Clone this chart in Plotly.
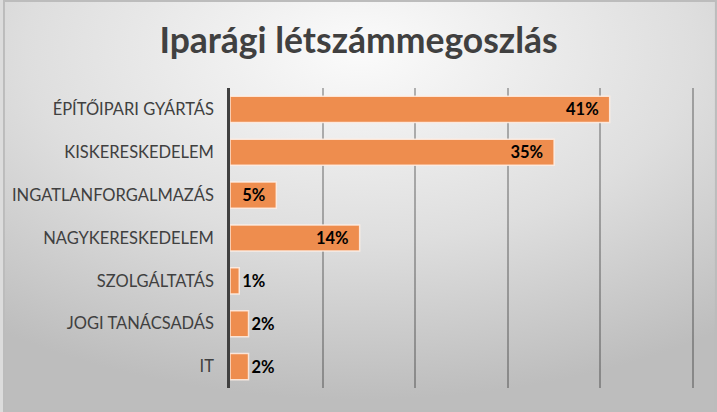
import base64
import plotly.graph_objects as go

categories = ["ÉPÍTŐIPARI GYÁRTÁS", "KISKERESKEDELEM", "INGATLANFORGALMAZÁS",
              "NAGYKERESKEDELEM", "SZOLGÁLTATÁS", "JOGI TANÁCSADÁS", "IT"]
values = [0.41, 0.35, 0.05, 0.14, 0.01, 0.02, 0.02]
text_positions = ["inside", "inside", "inside", "inside", "outside", "outside", "outside"]
title_text = "Iparági létszámmegoszlás"

W, H = 717, 412
ML, MR, MT, MB = 228, 19, 88, 24
PW, PH = W - ML - MR, H - MT - MB
XMAX = 0.5 * PW / 465

svg = f'''<svg xmlns="http://www.w3.org/2000/svg" width="{W}" height="{H}" viewBox="0 0 {W} {H}" preserveAspectRatio="none">
<defs><radialGradient id="g" cx="0.5" cy="0.12" r="0.85" fx="0.5" fy="0.12">
<stop offset="0" stop-color="#fbfbfb"/><stop offset="0.55" stop-color="#dedede"/><stop offset="1" stop-color="#bdbdbd"/>
</radialGradient></defs>
<rect x="0" y="0" width="{W}" height="{H}" fill="url(#g)"/>
<rect x="1" y="1" width="{W-2}" height="{H-2}" fill="none" stroke="#bcbcbc" stroke-width="2"/>
</svg>'''
bg = "data:image/svg+xml;base64," + base64.b64encode(svg.encode()).decode()

label_font = dict(family="Lato", size=16.5, color="#000000", weight="bold")

fig = go.Figure(go.Bar(
    x=values, y=categories, orientation="h",
    marker=dict(color="#EE8D4E", line=dict(color="rgba(255,240,230,0.85)", width=1.5)),
    texttemplate="%{x:.0%}\u00a0\u00a0", textposition=text_positions,
    insidetextanchor="end", cliponaxis=False,
    textfont=label_font, outsidetextfont=label_font, insidetextfont=label_font,
    textangle=0, constraintext="none",
))

fig.update_layout(
    width=W, height=H,
    margin=dict(l=ML, r=MR, t=MT, b=MB),
    paper_bgcolor="#dcdcdc", plot_bgcolor="rgba(0,0,0,0)",
    bargap=0.39, showlegend=False,
    title=dict(text=title_text, x=0.5, xref="container", xanchor="center", y=1 - 41/H, yanchor="middle",
               font=dict(family="Lato", size=35.5, color="#404040", weight="bold")),
    xaxis=dict(range=[0, XMAX], dtick=0.1, tick0=0, showticklabels=False, showgrid=True,
               gridcolor="rgba(0,0,0,0.28)", gridwidth=1.5, zeroline=False, fixedrange=True),
    yaxis=dict(autorange="reversed", showline=True, linecolor="#404040", linewidth=2.5,
               ticks="", ticklabelstandoff=10, showgrid=False,
               tickfont=dict(family="Lato", size=16.5, color="#404040")),
    images=[dict(source=bg, xref="paper", yref="paper", x=-ML/PW, y=1 + MT/PH,
                 sizex=W/PW, sizey=H/PH, xanchor="left", yanchor="top",
                 sizing="stretch", layer="below")],
)

fig.write_html("out.html")
